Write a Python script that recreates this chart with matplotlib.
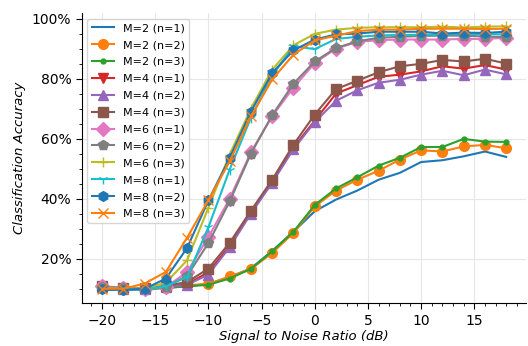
import numpy as np
import matplotlib
matplotlib.use("Agg")
import matplotlib.pyplot as plt
from matplotlib.ticker import PercentFormatter

snr = [-20, -18, -16, -14, -12, -10, -8, -6, -4, -2, 0, 2, 4, 6, 8, 10, 12, 14, 16, 18]

# accuracy in percent, one list per (M, n) setting
m2_n1 = [9.6, 9.6, 9.8, 10.4, 10.8, 11.6, 13.8, 16.8, 22.6, 29.0, 35.8, 39.7, 42.7, 46.3, 48.6, 52.2, 52.8, 54.1, 55.7, 53.9]
m2_n2 = [10.6, 10.0, 10.2, 10.4, 11.2, 11.6, 14.1, 16.6, 21.9, 28.6, 37.4, 42.7, 46.3, 49.3, 53.0, 56.1, 55.7, 57.4, 57.9, 56.8]
m2_n3 = [9.9, 9.9, 9.9, 10.2, 10.8, 11.3, 13.4, 16.6, 22.5, 29.0, 37.9, 43.4, 47.1, 51.0, 53.6, 57.2, 57.2, 59.9, 59.0, 58.9]
m4_n1 = [10.5, 10.0, 10.0, 10.6, 11.5, 15.5, 24.3, 35.5, 45.7, 57.0, 66.0, 75.0, 77.8, 80.6, 81.3, 82.4, 84.1, 83.3, 84.5, 83.0]
m4_n2 = [10.5, 10.0, 10.0, 10.5, 11.3, 14.7, 23.8, 35.0, 45.3, 56.5, 65.5, 72.6, 76.1, 78.6, 79.6, 81.3, 82.6, 81.1, 83.0, 81.4]
m4_n3 = [10.8, 10.3, 10.2, 11.0, 12.2, 16.7, 25.3, 36.0, 46.3, 58.0, 68.0, 76.5, 79.3, 82.1, 84.1, 84.9, 86.2, 85.7, 86.6, 85.0]
m6_n1 = [10.8, 10.2, 10.0, 10.5, 15.6, 27.2, 40.0, 55.5, 67.5, 77.0, 85.2, 90.0, 92.2, 92.8, 93.0, 93.0, 93.0, 93.2, 93.2, 93.6]
m6_n2 = [10.6, 10.1, 10.0, 10.6, 14.3, 25.2, 39.1, 55.0, 67.8, 78.3, 85.7, 90.2, 92.4, 93.6, 93.9, 94.2, 94.3, 94.3, 94.0, 93.8]
m6_n3 = [10.2, 10.0, 10.1, 12.0, 19.5, 37.0, 54.7, 70.0, 83.0, 91.1, 94.9, 96.3, 96.9, 97.1, 97.1, 97.1, 97.3, 97.0, 97.3, 97.4]
m8_n1 = [10.0, 9.8, 9.8, 10.8, 13.9, 30.5, 49.7, 67.0, 81.0, 90.8, 89.8, 93.2, 93.9, 94.4, 94.5, 94.6, 94.7, 94.8, 94.8, 94.7]
m8_n2 = [10.0, 9.7, 9.9, 13.4, 23.6, 39.4, 53.6, 69.0, 81.9, 89.4, 93.0, 94.7, 95.0, 95.6, 95.6, 95.6, 95.0, 95.3, 95.2, 95.6]
m8_n3 = [10.0, 10.0, 11.7, 15.6, 27.0, 39.5, 52.4, 67.4, 79.7, 88.0, 92.7, 94.3, 95.8, 96.3, 96.3, 96.6, 96.6, 96.6, 96.5, 96.6]

series = [m2_n1, m2_n2, m2_n3, m4_n1, m4_n2, m4_n3, m6_n1, m6_n2, m6_n3, m8_n1, m8_n2, m8_n3]
labels = ["M=2 (n=1)", "M=2 (n=2)", "M=2 (n=3)", "M=4 (n=1)", "M=4 (n=2)", "M=4 (n=3)",
          "M=6 (n=1)", "M=6 (n=2)", "M=6 (n=3)", "M=8 (n=1)", "M=8 (n=2)", "M=8 (n=3)"]
markers = [None, "o", ".", "v", "^", "s", "D", "p", "+", "1", "h", "x"]
colors = ["tab:blue", "tab:orange", "tab:green", "tab:red", "tab:purple", "tab:brown",
          "tab:pink", "tab:gray", "tab:olive", "tab:cyan", "tab:blue", "tab:orange"]

fig = plt.figure(figsize=(5.28, 3.46), dpi=100)
ax = fig.add_axes([0.155, 0.124, 0.842, 0.838])

for y, lab, mk, c in zip(series, labels, markers, colors):
    ax.plot(snr, y, marker=mk, color=c, label=lab, linewidth=1.5, markersize=7)

ax.yaxis.set_major_formatter(PercentFormatter(100, decimals=0))
ax.minorticks_on()
ax.grid(True, which="major", color="#e6e6e6", linewidth=0.8)
ax.set_axisbelow(True)
ax.spines["top"].set_visible(False)
ax.spines["right"].set_visible(False)
ax.tick_params(which="major", direction="out", length=4, labelsize=10)
ax.tick_params(which="minor", direction="out", length=2)

ax.set_xlabel("Signal to Noise Ratio (dB)", style="italic", fontsize=9.5, labelpad=2)
ax.set_ylabel("Classification Accuracy", style="italic", fontsize=9.5)
ax.legend(loc="upper left", fontsize=8, labelspacing=0.62)

fig.savefig("out.png", dpi=100)
